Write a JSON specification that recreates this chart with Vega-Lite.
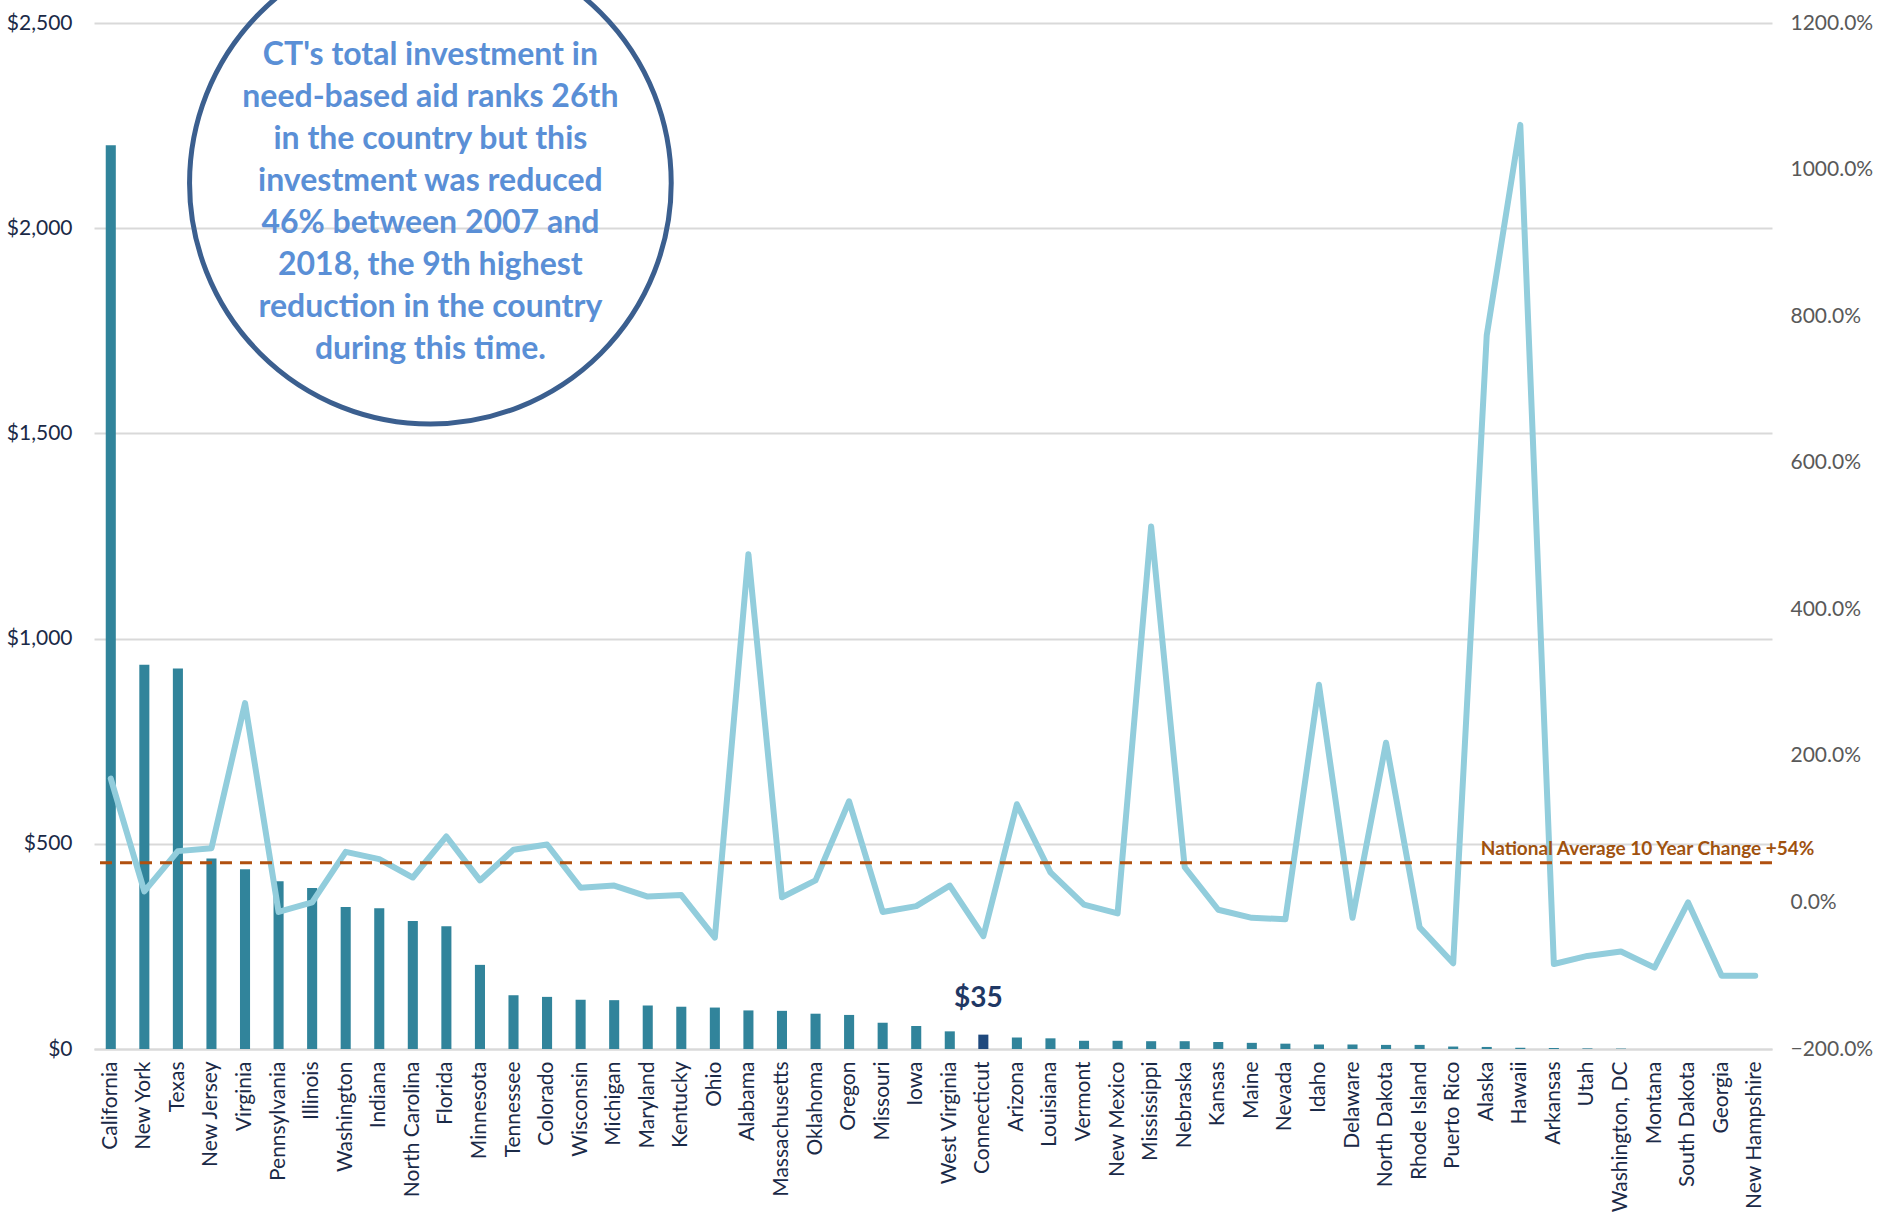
{
  "$schema": "https://vega.github.io/schema/vega-lite/v6.json",
  "autosize": {"type": "none"},
  "width": 1678,
  "height": 1026,
  "padding": {"left": 94, "top": 23, "right": 111, "bottom": 176},
  "background": "white",
  "config": {
    "view": {"stroke": null},
    "font": "Lato"
  },
  "datasets": {
    "states": [
      {"state": "California", "aid": 2202, "change": 169},
      {"state": "New York", "aid": 936, "change": 15},
      {"state": "Texas", "aid": 927, "change": 70},
      {"state": "New Jersey", "aid": 464, "change": 74},
      {"state": "Virginia", "aid": 438, "change": 272},
      {"state": "Pennsylvania", "aid": 409, "change": -13},
      {"state": "Illinois", "aid": 392, "change": 0},
      {"state": "Washington", "aid": 346, "change": 69},
      {"state": "Indiana", "aid": 343, "change": 59},
      {"state": "North Carolina", "aid": 312, "change": 34},
      {"state": "Florida", "aid": 299, "change": 90},
      {"state": "Minnesota", "aid": 205, "change": 30},
      {"state": "Tennessee", "aid": 131, "change": 72},
      {"state": "Colorado", "aid": 127, "change": 79},
      {"state": "Wisconsin", "aid": 120, "change": 20},
      {"state": "Michigan", "aid": 119, "change": 23},
      {"state": "Maryland", "aid": 106, "change": 8},
      {"state": "Kentucky", "aid": 103, "change": 10},
      {"state": "Ohio", "aid": 101, "change": -48},
      {"state": "Alabama", "aid": 94, "change": 475},
      {"state": "Massachusetts", "aid": 93, "change": 7},
      {"state": "Oklahoma", "aid": 86, "change": 30},
      {"state": "Oregon", "aid": 83, "change": 138},
      {"state": "Missouri", "aid": 64, "change": -13},
      {"state": "Iowa", "aid": 56, "change": -5},
      {"state": "West Virginia", "aid": 43, "change": 23},
      {"state": "Connecticut", "aid": 35, "change": -46},
      {"state": "Arizona", "aid": 28, "change": 134},
      {"state": "Louisiana", "aid": 26, "change": 41},
      {"state": "Vermont", "aid": 20, "change": -3},
      {"state": "New Mexico", "aid": 20, "change": -15},
      {"state": "Mississippi", "aid": 19, "change": 513},
      {"state": "Nebraska", "aid": 19, "change": 48},
      {"state": "Kansas", "aid": 17, "change": -10},
      {"state": "Maine", "aid": 15, "change": -21},
      {"state": "Nevada", "aid": 13, "change": -23},
      {"state": "Idaho", "aid": 11, "change": 297},
      {"state": "Delaware", "aid": 11, "change": -21},
      {"state": "North Dakota", "aid": 10, "change": 218},
      {"state": "Rhode Island", "aid": 10, "change": -34},
      {"state": "Puerto Rico", "aid": 6, "change": -83},
      {"state": "Alaska", "aid": 5, "change": 774},
      {"state": "Hawaii", "aid": 3, "change": 1061},
      {"state": "Arkansas", "aid": 2.5, "change": -84},
      {"state": "Utah", "aid": 1.5, "change": -73},
      {"state": "Washington, DC", "aid": 1, "change": -67},
      {"state": "Montana", "aid": 0, "change": -89},
      {"state": "South Dakota", "aid": 0, "change": 0},
      {"state": "Georgia", "aid": 0, "change": -100},
      {"state": "New Hampshire", "aid": 0, "change": -100}
    ],
    "note": [
      {"state": "Florida", "cy": 2110, "ty": 2422, "text": ["CT's total investment in", "need-based aid ranks 26th", "in the country but this", "investment was reduced", "46% between 2007 and", "2018, the 9th highest", "reduction in the country", "during this time."]}
    ],
    "avg": [
      {"state": "Alaska", "value": 54, "label": "National Average 10 Year Change +54%"}
    ]
  },
  "encoding": {
    "x": {
      "field": "state",
      "type": "nominal",
      "sort": null,
      "scale": {"paddingInner": 0.7, "paddingOuter": 0.35},
      "axis": {
        "title": null,
        "labelAngle": -90,
        "labelAlign": "right",
        "labelBaseline": "middle",
        "labelFontSize": 21,
        "labelColor": "#1B2A47",
        "labelPadding": 12,
        "ticks": false,
        "domainColor": "#D9D9D9",
        "domainWidth": 2
      }
    }
  },
  "layer": [
    {
      "layer": [
        {
          "data": {"name": "states"},
          "mark": {"type": "bar"},
          "encoding": {
            "y": {
              "field": "aid",
              "type": "quantitative",
              "scale": {"domain": [0, 2500], "nice": false, "zero": true},
              "axis": {
                "title": null,
                "values": [0, 500, 1000, 1500, 2000, 2500],
                "format": "$,.0f",
                "labelFontSize": 21,
                "labelColor": "#1B2A47",
                "labelPadding": 22,
                "ticks": false,
                "domain": false,
                "grid": true,
                "gridColor": "#D9D9D9",
                "gridWidth": 2
              }
            },
            "color": {
              "condition": {"test": "datum.state === 'Connecticut'", "value": "#1F497D"},
              "value": "#31849B"
            }
          }
        },
        {
          "data": {"name": "states"},
          "transform": [{"filter": "datum.state === 'Connecticut'"}],
          "mark": {"type": "text", "font": "Lato", "fontWeight": "bold", "fontSize": 28, "color": "#1F3864", "baseline": "bottom", "dx": -5, "dy": -22},
          "encoding": {
            "y": {"field": "aid", "type": "quantitative"},
            "text": {"value": "$35"}
          }
        },
        {
          "data": {"name": "note"},
          "mark": {"type": "point", "shape": "circle", "filled": false, "size": 232000, "stroke": "#3B5F8F", "strokeWidth": 5, "opacity": 1, "xOffset": -16},
          "encoding": {
            "y": {"field": "cy", "type": "quantitative"}
          }
        },
        {
          "data": {"name": "note"},
          "mark": {"type": "text", "font": "Lato", "fontWeight": "bold", "fontSize": 32, "color": "#5A8FD6", "align": "center", "baseline": "middle", "lineHeight": 42, "dx": -16},
          "encoding": {
            "y": {"field": "ty", "type": "quantitative"},
            "text": {"field": "text"}
          }
        }
      ]
    },
    {
      "layer": [
        {
          "data": {"name": "states"},
          "mark": {"type": "line", "color": "#92CDDC", "strokeWidth": 6, "strokeJoin": "round", "strokeCap": "round"},
          "encoding": {
            "y": {
              "field": "change",
              "type": "quantitative",
              "scale": {"domain": [-200, 1200], "nice": false},
              "axis": {
                "title": null,
                "orient": "right",
                "values": [-200, 0, 200, 400, 600, 800, 1000, 1200],
                "labelExpr": "format(datum.value, '.1f') + '%'",
                "labelFontSize": 21,
                "labelColor": "#595959",
                "labelPadding": 18,
                "ticks": false,
                "domain": false,
                "grid": false
              }
            }
          }
        },
        {
          "data": {"name": "avg"},
          "mark": {"type": "rule", "color": "#B0500F", "strokeWidth": 3, "strokeDash": [12, 8]},
          "encoding": {
            "y": {"field": "value", "type": "quantitative"},
            "x": null
          }
        },
        {
          "data": {"name": "avg"},
          "mark": {"type": "text", "font": "Lato", "fontWeight": "bold", "fontSize": 19, "color": "#A0520F", "align": "left", "baseline": "bottom", "dx": -6, "dy": -4},
          "encoding": {
            "y": {"field": "value", "type": "quantitative"},
            "text": {"field": "label"}
          }
        }
      ]
    }
  ],
  "resolve": {"scale": {"y": "independent"}}
}
